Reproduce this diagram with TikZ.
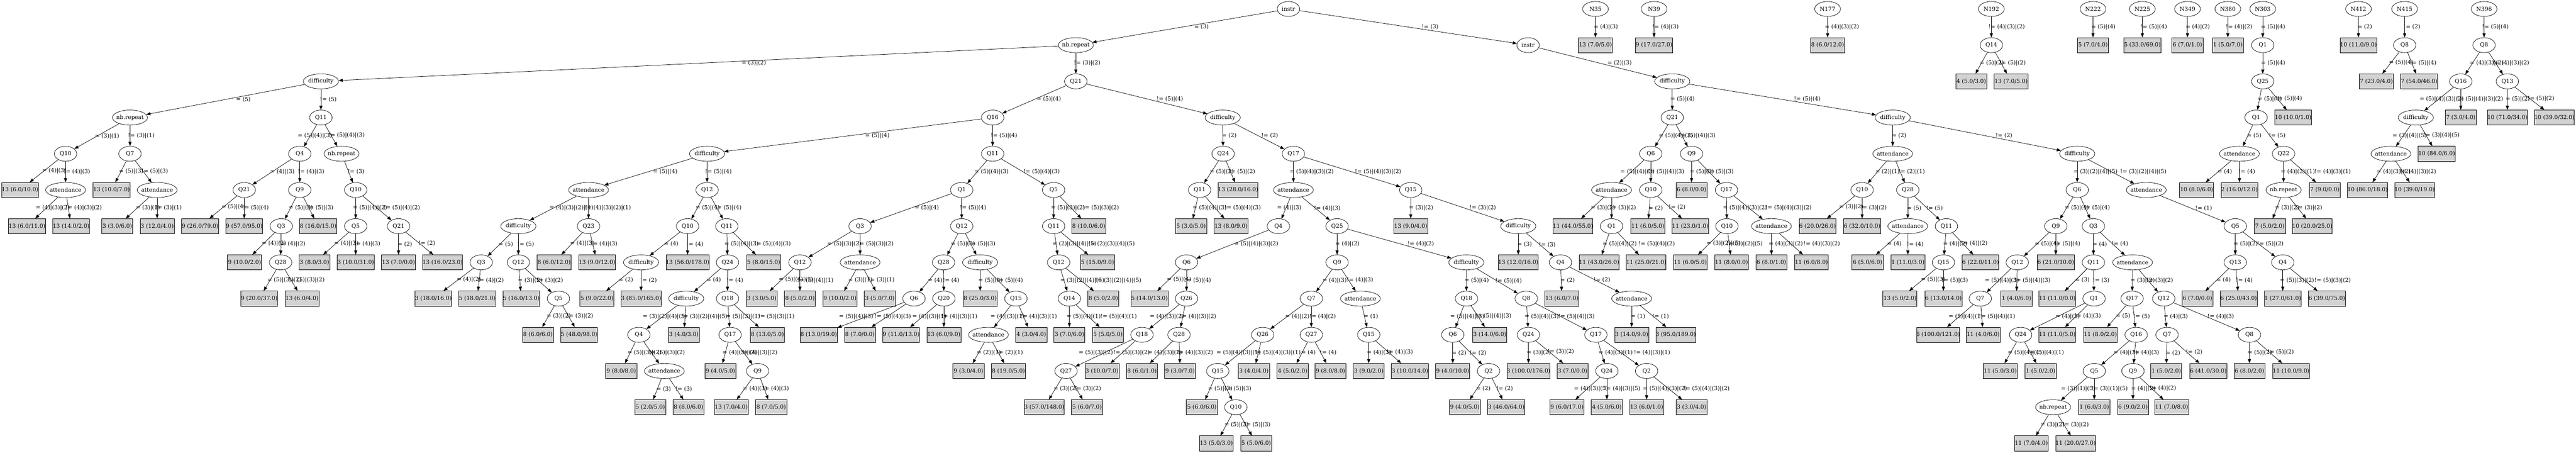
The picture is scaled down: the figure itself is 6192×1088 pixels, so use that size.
\documentclass[tikz,border=0pt]{standalone}
\usepackage{fontspec}
\usetikzlibrary{shapes.geometric,arrows.meta}
\newfontfamily\tmsfam{Liberation Serif}
\newfontfamily\djvfam{DejaVu Serif}
\newsavebox\tmpbox
\newcommand\tx[1]{\sbox\tmpbox{\tmsfam\fontsize{14pt}{16pt}\selectfont #1}\makebox[\wd\tmpbox]{\djvfam\fontsize{13.5pt}{16pt}\selectfont #1}}
\definecolor{lgray}{HTML}{D3D3D3}
\tikzset{
  ell/.style={ellipse, draw=black, line width=0.9pt, inner xsep=4pt, inner ysep=1pt, minimum width=54pt, minimum height=36pt},
  nn/.style={ell, minimum width=62pt},
  lf/.style={rectangle, draw=black, fill=lgray, line width=1pt, inner xsep=8pt, inner ysep=0pt, minimum height=36pt},
  ed/.style={draw=black, line width=0.9pt, -{Triangle[length=10pt,width=7.5pt]}},
  el/.style={anchor=west, inner sep=0pt, xshift=1pt},
  elc/.style={anchor=center, inner sep=0pt}
}
\newcommand\mkI[4]{\node[ell] (#1) at (#3,#4) {\tx{#2}};}
\newcommand\mkN[4]{\node[nn] (#1) at (#3,#4) {\tx{#2}};}
\newcommand\mkL[4]{\node[lf] (#1) at (#3,#4) {\tx{#2}};}
\newcommand\mkE[3]{\draw[ed] (#1) -- node[el]{\tx{#3}} (#2);}
\newcommand\mkEo[4]{\draw[ed] (#1) -- (#2); \node[elc] at (#4) {\tx{#3}};}
\begin{document}
\begin{tikzpicture}
\fill[white] (0pt,0pt) rectangle (6192pt,-1088pt);
\useasboundingbox (0pt,0pt) rectangle (6192pt,-1088pt);
\begin{scope}[x=1pt,y=-87pt,yshift=-21.5pt]
% ---------- main tree nodes ----------
\mkI{n0}{instr}{3097}{0}
\mkI{n1}{nb.repeat}{2586}{1}
\mkI{n2}{instr}{3673}{1}
\mkI{n3}{difficulty}{771.4}{2}
\mkI{n4}{Q21}{2586}{2}
\mkI{n5}{nb.repeat}{312.5}{3}
\mkI{n6}{Q11}{771.4}{3}
\mkI{n7}{Q10}{157.6}{4}
\mkI{n8}{Q7}{312.5}{4}
\mkL{n9}{13 (6.0/10.0)}{48}{5}
\mkI{n10}{attendance}{157.6}{5}
\mkL{n11}{13 (10.0/7.0)}{268}{5}
\mkI{n12}{attendance}{377.7}{5}
\mkL{n13}{13 (6.0/11.0)}{65}{6}
\mkL{n14}{13 (14.0/2.0)}{171}{6}
\mkL{n15}{3 (3.0/6.0)}{282}{6}
\mkL{n16}{3 (12.0/4.0)}{377.7}{6}
\mkI{n17}{Q4}{720.5}{4}
\mkI{n18}{nb.repeat}{821}{4}
\mkI{n19}{Q21}{587}{5}
\mkI{n20}{Q9}{720.5}{5}
\mkL{n21}{9 (26.0/79.0)}{481}{6}
\mkL{n22}{9 (57.0/95.0)}{587}{6}
\mkI{n23}{Q3}{676}{6}
\mkL{n24}{8 (16.0/15.0)}{764.7}{6}
\mkL{n25}{9 (10.0/2.0)}{588}{7}
\mkI{n26}{Q28}{674.5}{7}
\mkL{n27}{9 (20.0/37.0)}{623}{8}
\mkL{n28}{13 (6.0/4.0)}{726}{8}
\mkI{n29}{Q10}{855}{5}
\mkI{n30}{Q5}{855}{6}
\mkI{n31}{Q21}{958}{6}
\mkL{n32}{3 (8.0/3.0)}{755.8}{7}
\mkL{n33}{3 (10.0/31.0)}{855}{7}
\mkL{n34}{13 (7.0/0.0)}{958}{7}
\mkL{n35}{13 (16.0/23.0)}{1063.8}{7}
\mkI{n36}{Q16}{2386}{3}
\mkI{n37}{difficulty}{2939}{3}
\mkI{n38}{difficulty}{1699.6}{4}
\mkI{n39}{Q11}{2386}{4}
\mkI{n40}{attendance}{1414.7}{5}
\mkI{n41}{Q12}{1699.6}{5}
\mkI{n42}{difficulty}{1246}{6}
\mkI{n43}{Q23}{1414.7}{6}
\mkI{n44}{Q3}{1156.7}{7}
\mkI{n45}{Q12}{1246}{7}
\mkL{n46}{3 (18.0/16.0)}{1041.5}{8}
\mkL{n47}{5 (18.0/21.0)}{1147}{8}
\mkL{n48}{5 (16.0/13.0)}{1253}{8}
\mkI{n49}{Q5}{1342.4}{8}
\mkL{n50}{8 (6.0/6.0)}{1293}{9}
\mkL{n51}{5 (48.0/98.0)}{1392}{9}
\mkL{n52}{8 (6.0/12.0)}{1332}{7}
\mkL{n53}{13 (9.0/12.0)}{1435}{7}
\mkI{n54}{Q10}{1652.7}{6}
\mkI{n55}{Q11}{1747}{6}
\mkI{n56}{difficulty}{1541}{7}
\mkL{n57}{13 (56.0/178.0)}{1652.7}{7}
\mkL{n58}{5 (9.0/22.0)}{1434.8}{8}
\mkL{n59}{3 (85.0/165.0)}{1541}{8}
\mkI{n60}{Q24}{1748.7}{7}
\mkL{n61}{5 (8.0/15.0)}{1835.7}{7}
\mkI{n62}{difficulty}{1649.5}{8}
\mkI{n63}{Q18}{1748.7}{8}
\mkI{n64}{Q4}{1535.7}{9}
\mkL{n65}{3 (4.0/3.0)}{1643.8}{9}
\mkL{n66}{9 (8.0/8.0)}{1493.3}{10}
\mkI{n67}{attendance}{1596.9}{10}
\mkL{n68}{5 (2.0/5.0)}{1563}{11}
\mkL{n69}{8 (8.0/6.0)}{1655}{11}
\mkI{n70}{Q17}{1755}{9}
\mkL{n71}{8 (13.0/5.0)}{1844.6}{9}
\mkL{n72}{9 (4.0/5.0)}{1731.7}{10}
\mkI{n73}{Q9}{1821}{10}
\mkL{n74}{13 (7.0/4.0)}{1757.6}{11}
\mkL{n75}{8 (7.0/5.0)}{1853.6}{11}
\mkI{n76}{Q1}{2311.6}{5}
\mkI{n77}{Q5}{2532.6}{5}
\mkI{n78}{Q3}{2067.4}{6}
\mkI{n79}{Q12}{2311.6}{6}
\mkI{n80}{Q12}{1922.8}{7}
\mkI{n81}{attendance}{2067.4}{7}
\mkL{n82}{3 (3.0/5.0)}{1831}{8}
\mkL{n83}{8 (5.0/2.0)}{1922.8}{8}
\mkL{n84}{9 (10.0/2.0)}{2019}{8}
\mkL{n85}{3 (5.0/7.0)}{2115}{8}
\mkI{n86}{Q28}{2268}{7}
\mkI{n87}{difficulty}{2356}{7}
\mkI{n88}{Q6}{2197}{8}
\mkI{n89}{Q20}{2268.8}{8}
\mkL{n90}{8 (13.0/19.0)}{1968}{9}
\mkL{n91}{8 (7.0/0.0)}{2067}{9}
\mkL{n92}{9 (11.0/13.0)}{2166}{9}
\mkL{n93}{13 (6.0/9.0)}{2268.8}{9}
\mkL{n94}{8 (25.0/3.0)}{2356}{8}
\mkI{n95}{Q15}{2442}{8}
\mkI{n96}{attendance}{2376}{9}
\mkL{n97}{4 (3.0/4.0)}{2479}{9}
\mkL{n98}{9 (3.0/4.0)}{2328}{10}
\mkL{n99}{8 (19.0/5.0)}{2424}{10}
\mkI{n100}{Q11}{2532.6}{6}
\mkL{n101}{8 (10.0/6.0)}{2617}{6}
\mkI{n102}{Q12}{2544.6}{7}
\mkL{n103}{5 (15.0/9.0)}{2638}{7}
\mkI{n104}{Q14}{2570.5}{8}
\mkL{n105}{8 (5.0/2.0)}{2652}{8}
\mkL{n106}{3 (7.0/6.0)}{2570.5}{9}
\mkL{n107}{5 (5.0/5.0)}{2663}{9}
\mkI{n108}{Q24}{2940}{4}
\mkI{n109}{Q17}{3109}{4}
\mkI{n110}{Q11}{2883.5}{5}
\mkL{n111}{13 (28.0/16.0)}{2976}{5}
\mkL{n112}{5 (3.0/5.0)}{2863}{6}
\mkL{n113}{13 (8.0/9.0)}{2959}{6}
\mkI{n114}{attendance}{3109}{5}
\mkI{n115}{Q15}{3391}{5}
\mkI{n116}{Q4}{3073}{6}
\mkI{n117}{Q25}{3214}{6}
\mkI{n118}{Q6}{2852}{7}
\mkL{n119}{5 (14.0/13.0)}{2763}{8}
\mkI{n120}{Q26}{2852}{8}
\mkI{n121}{Q18}{2745}{9}
\mkI{n122}{Q28}{2834}{9}
\mkI{n123}{Q27}{2562.5}{10}
\mkL{n124}{3 (10.0/7.0)}{2649}{10}
\mkL{n125}{3 (57.0/148.0)}{2510}{11}
\mkL{n126}{5 (6.0/7.0)}{2613}{11}
\mkL{n127}{8 (6.0/1.0)}{2745}{10}
\mkL{n128}{9 (3.0/7.0)}{2836.6}{10}
\mkI{n129}{Q9}{3214}{7}
\mkI{n130}{difficulty}{3524.6}{7}
\mkI{n131}{Q7}{3152}{8}
\mkI{n132}{attendance}{3270}{8}
\mkI{n133}{Q15}{3290}{9}
\mkL{n134}{3 (9.0/2.0)}{3290}{10}
\mkL{n135}{3 (10.0/14.0)}{3389}{10}
\mkI{n136}{Q26}{3035}{9}
\mkI{n137}{Q27}{3152}{9}
\mkI{n138}{Q15}{2927}{10}
\mkL{n139}{3 (4.0/4.0)}{3014}{10}
\mkL{n140}{4 (5.0/2.0)}{3107}{10}
\mkL{n141}{9 (8.0/8.0)}{3198}{10}
\mkL{n142}{5 (6.0/6.0)}{2889}{11}
\mkI{n143}{Q10}{2970.5}{11}
\mkL{n144}{13 (5.0/3.0)}{2923.7}{12}
\mkL{n145}{5 (5.0/6.0)}{3019.6}{12}
\mkL{n146}{13 (9.0/4.0)}{3391}{6}
\mkI{n147}{difficulty}{3649.5}{6}
\mkL{n148}{13 (12.0/16.0)}{3649.5}{7}
\mkI{n149}{Q4}{3751}{7}
\mkL{n150}{13 (6.0/7.0)}{3754.5}{8}
\mkI{n151}{attendance}{3922}{8}
\mkL{n152}{3 (14.0/9.0)}{3922}{9}
\mkL{n153}{3 (95.0/189.0)}{4028}{9}
\mkI{n154}{Q18}{3525}{8}
\mkI{n155}{Q8}{3668.75}{8}
\mkI{n156}{Q6}{3492}{9}
\mkL{n157}{3 (14.0/6.0)}{3581}{9}
\mkL{n158}{9 (4.0/10.0)}{3492}{10}
\mkI{n159}{Q2}{3578}{10}
\mkL{n160}{9 (4.0/5.0)}{3521}{11}
\mkL{n161}{3 (46.0/64.0)}{3620.5}{11}
\mkI{n162}{Q24}{3674}{9}
\mkI{n163}{Q17}{3836}{9}
\mkL{n164}{3 (100.0/176.0)}{3674}{10}
\mkL{n165}{3 (7.0/0.0)}{3780}{10}
\mkI{n166}{Q24}{3862.5}{10}
\mkI{n167}{Q2}{3958}{10}
\mkL{n168}{9 (6.0/17.0)}{3766.5}{11}
\mkL{n169}{4 (5.0/6.0)}{3862.5}{11}
\mkL{n170}{13 (6.0/1.0)}{3958}{11}
\mkL{n171}{3 (3.0/4.0)}{4066}{11}
\mkI{n172}{difficulty}{4019.6}{2}
\mkI{n173}{Q21}{4019.6}{3}
\mkI{n174}{difficulty}{4549.5}{3}
\mkI{n175}{Q6}{3968}{4}
\mkI{n176}{Q9}{4066}{4}
\mkI{n177}{attendance}{3873.7}{5}
\mkI{n178}{Q10}{3968}{5}
\mkL{n179}{11 (44.0/55.0)}{3781}{6}
\mkI{n180}{Q1}{3873.7}{6}
\mkL{n181}{11 (43.0/26.0)}{3843.75}{7}
\mkL{n182}{11 (25.0/21.0)}{3957}{7}
\mkL{n183}{11 (6.0/5.0)}{3961}{6}
\mkL{n184}{11 (23.0/1.0)}{4063}{6}
\mkL{n185}{6 (8.0/0.0)}{4066}{5}
\mkI{n186}{Q17}{4150}{5}
\mkI{n187}{Q10}{4151}{6}
\mkI{n188}{attendance}{4258}{6}
\mkL{n189}{11 (6.0/5.0)}{4063}{7}
\mkL{n190}{11 (8.0/0.0)}{4162}{7}
\mkL{n191}{6 (8.0/1.0)}{4258}{7}
\mkL{n192}{11 (6.0/8.0)}{4354}{7}
\mkI{n193}{attendance}{4549.5}{4}
\mkI{n194}{difficulty}{4993}{4}
\mkI{n195}{Q10}{4476}{5}
\mkI{n196}{Q28}{4585.7}{5}
\mkL{n197}{6 (20.0/26.0)}{4368.75}{6}
\mkL{n198}{6 (32.0/10.0)}{4476}{6}
\mkI{n199}{attendance}{4585.7}{6}
\mkI{n200}{Q11}{4678.6}{6}
\mkL{n201}{6 (5.0/6.0)}{4489}{7}
\mkL{n202}{1 (11.0/3.0)}{4586}{7}
\mkI{n203}{Q15}{4671.4}{7}
\mkL{n204}{6 (22.0/11.0)}{4760.7}{7}
\mkL{n205}{13 (5.0/2.0)}{4567}{8}
\mkL{n206}{6 (13.0/14.0)}{4671.4}{8}
\mkI{n207}{Q6}{4993}{5}
\mkI{n208}{attendance}{5159}{5}
\mkI{n209}{Q9}{4941.5}{6}
\mkI{n210}{Q3}{5032}{6}
\mkI{n211}{Q12}{4849}{7}
\mkL{n212}{6 (21.0/10.0)}{4941.5}{7}
\mkI{n213}{Q7}{4760}{8}
\mkL{n214}{1 (4.0/6.0)}{4847}{8}
\mkL{n215}{6 (100.0/121.0)}{4658.5}{9}
\mkL{n216}{11 (4.0/6.0)}{4767}{9}
\mkI{n217}{Q11}{5032}{7}
\mkI{n218}{attendance}{5126}{7}
\mkL{n219}{11 (11.0/0.0)}{4945}{8}
\mkI{n220}{Q1}{5033.5}{8}
\mkI{n221}{Q24}{4857}{9}
\mkL{n222}{11 (11.0/5.0)}{4945}{9}
\mkL{n223}{11 (5.0/3.0)}{4808}{10}
\mkL{n224}{1 (5.0/2.0)}{4905}{10}
\mkI{n225}{Q17}{5125}{8}
\mkI{n226}{Q12}{5201}{8}
\mkL{n227}{11 (8.0/2.0)}{5048.6}{9}
\mkI{n228}{Q16}{5134.8}{9}
\mkI{n229}{Q5}{5034}{10}
\mkI{n230}{Q9}{5127}{10}
\mkI{n231}{nb.repeat}{4935}{11}
\mkL{n232}{1 (6.0/3.0)}{5034}{11}
\mkL{n233}{11 (7.0/4.0)}{4882.6}{12}
\mkL{n234}{11 (20.0/27.0)}{4989}{12}
\mkL{n235}{6 (9.0/2.0)}{5127}{11}
\mkL{n236}{11 (7.0/8.0)}{5220}{11}
\mkI{n237}{Q7}{5209}{9}
\mkI{n238}{Q8}{5407}{9}
\mkL{n239}{1 (5.0/2.0)}{5207}{10}
\mkL{n240}{6 (41.0/30.0)}{5308}{10}
\mkL{n241}{6 (8.0/2.0)}{5407}{10}
\mkL{n242}{11 (10.0/9.0)}{5507}{10}
\mkI{n243}{Q5}{5373}{6}
\mkI{n244}{Q13}{5373}{7}
\mkI{n245}{Q4}{5487}{7}
\mkL{n246}{6 (7.0/0.0)}{5282}{8}
\mkL{n247}{6 (25.0/43.0)}{5381}{8}
\mkL{n248}{1 (27.0/61.0)}{5487}{8}
\mkL{n249}{6 (39.0/75.0)}{5593}{8}
% ---------- main tree edges ----------
\mkEo{n0}{n1}{= (3)}{2888,0.5}
\mkEo{n0}{n2}{!= (3)}{3437.5,0.5}
\mkEo{n1}{n3}{= (3)|(2)}{1812,1.5}
\mkE{n1}{n4}{!= (3)|(2)}
\mkEo{n3}{n5}{= (5)}{585,2.5}
\mkE{n3}{n6}{!= (5)}
\mkE{n5}{n7}{= (3)|(1)}
\mkE{n5}{n8}{!= (3)|(1)}
\mkE{n7}{n9}{= (4)|(3)}
\mkE{n7}{n10}{!= (4)|(3)}
\mkE{n8}{n11}{= (5)|(3)}
\mkE{n8}{n12}{!= (5)|(3)}
\mkEo{n10}{n13}{= (4)|(3)|(2)}{127,5.5}
\mkE{n10}{n14}{!= (4)|(3)|(2)}
\mkE{n12}{n15}{= (3)|(1)}
\mkE{n12}{n16}{!= (3)|(1)}
\mkEo{n6}{n17}{= (5)|(4)|(3)}{757,3.5}
\mkE{n6}{n18}{!= (5)|(4)|(3)}
\mkE{n17}{n19}{= (4)|(3)}
\mkE{n17}{n20}{!= (4)|(3)}
\mkE{n19}{n21}{= (5)|(4)}
\mkE{n19}{n22}{!= (5)|(4)}
\mkE{n20}{n23}{= (5)|(3)}
\mkE{n20}{n24}{!= (5)|(3)}
\mkE{n23}{n25}{= (4)|(2)}
\mkE{n23}{n26}{!= (4)|(2)}
\mkE{n26}{n27}{= (5)|(3)|(2)}
\mkE{n26}{n28}{!= (5)|(3)|(2)}
\mkE{n18}{n29}{!= (3)}
\mkE{n29}{n30}{= (5)|(4)|(2)}
\mkEo{n29}{n31}{!= (5)|(4)|(2)}{966,5.5}
\mkE{n30}{n32}{= (4)|(3)}
\mkE{n30}{n33}{!= (4)|(3)}
\mkE{n31}{n34}{= (2)}
\mkE{n31}{n35}{!= (2)}
\mkEo{n4}{n36}{= (5)|(4)}{2521,2.5}
\mkEo{n4}{n37}{!= (5)|(4)}{2812,2.5}
\mkEo{n36}{n38}{= (5)|(4)}{2109,3.5}
\mkE{n36}{n39}{!= (5)|(4)}
\mkEo{n38}{n40}{= (5)|(4)}{1599,4.5}
\mkE{n38}{n41}{!= (5)|(4)}
\mkE{n40}{n42}{= (4)|(3)|(2)|(1)}
\mkE{n40}{n43}{!= (4)|(3)|(2)|(1)}
\mkE{n42}{n44}{= (5)}
\mkE{n42}{n45}{!= (5)}
\mkE{n44}{n46}{= (4)|(2)}
\mkE{n44}{n47}{!= (4)|(2)}
\mkE{n45}{n48}{= (3)|(2)}
\mkE{n45}{n49}{!= (3)|(2)}
\mkE{n49}{n50}{= (3)|(2)}
\mkE{n49}{n51}{!= (3)|(2)}
\mkE{n43}{n52}{= (4)|(3)}
\mkE{n43}{n53}{!= (4)|(3)}
\mkE{n41}{n54}{= (5)|(4)}
\mkE{n41}{n55}{!= (5)|(4)}
\mkE{n54}{n56}{= (4)}
\mkE{n54}{n57}{!= (4)}
\mkE{n56}{n58}{= (2)}
\mkE{n56}{n59}{!= (2)}
\mkE{n55}{n60}{= (5)|(4)|(3)}
\mkEo{n55}{n61}{!= (5)|(4)|(3)}{1857,6.5}
\mkE{n60}{n62}{= (4)}
\mkE{n60}{n63}{!= (4)}
\mkEo{n62}{n64}{= (3)|(2)|(4)|(5)}{1598,8.5}
\mkE{n62}{n65}{!= (3)|(2)|(4)|(5)}
\mkE{n64}{n66}{= (5)|(3)|(2)}
\mkE{n64}{n67}{!= (5)|(3)|(2)}
\mkE{n67}{n68}{= (3)}
\mkE{n67}{n69}{!= (3)}
\mkE{n63}{n70}{= (5)|(3)|(1)}
\mkEo{n63}{n71}{!= (5)|(3)|(1)}{1866,8.5}
\mkE{n70}{n72}{= (4)|(3)|(2)}
\mkE{n70}{n73}{!= (4)|(3)|(2)}
\mkE{n73}{n74}{= (4)|(3)}
\mkE{n73}{n75}{!= (4)|(3)}
\mkE{n39}{n76}{= (5)|(4)|(3)}
\mkEo{n39}{n77}{!= (5)|(4)|(3)}{2503.6,4.5}
\mkEo{n76}{n78}{= (5)|(4)}{2227.7,5.5}
\mkE{n76}{n79}{!= (5)|(4)}
\mkE{n78}{n80}{= (5)|(3)|(2)}
\mkE{n78}{n81}{!= (5)|(3)|(2)}
\mkE{n80}{n82}{= (5)|(4)|(1)}
\mkE{n80}{n83}{!= (5)|(4)|(1)}
\mkE{n81}{n84}{= (3)|(1)}
\mkE{n81}{n85}{!= (3)|(1)}
\mkE{n79}{n86}{= (5)|(3)}
\mkE{n79}{n87}{!= (5)|(3)}
\mkE{n86}{n88}{= (4)}
\mkE{n86}{n89}{!= (4)}
\mkEo{n88}{n90}{= (5)|(4)|(3)}{2058,8.5}
\mkEo{n88}{n91}{!= (5)|(4)|(3)}{2146,8.5}
\mkEo{n89}{n92}{= (4)|(3)|(1)}{2234,8.5}
\mkE{n89}{n93}{!= (4)|(3)|(1)}
\mkE{n87}{n94}{= (5)|(4)}
\mkE{n87}{n95}{!= (5)|(4)}
\mkEo{n95}{n96}{= (4)|(3)|(1)}{2422,8.5}
\mkE{n95}{n97}{!= (4)|(3)|(1)}
\mkE{n96}{n98}{= (2)|(1)}
\mkE{n96}{n99}{!= (2)|(1)}
\mkE{n77}{n100}{= (5)|(3)|(2)}
\mkEo{n77}{n101}{!= (5)|(3)|(2)}{2646,5.5}
\mkE{n100}{n102}{= (2)|(3)|(4)|(5)}
\mkEo{n100}{n103}{!= (2)|(3)|(4)|(5)}{2672,6.5}
\mkE{n102}{n104}{= (3)|(2)|(4)|(5)}
\mkEo{n102}{n105}{!= (3)|(2)|(4)|(5)}{2688,7.5}
\mkE{n104}{n106}{= (5)|(4)|(1)}
\mkEo{n104}{n107}{!= (5)|(4)|(1)}{2689,8.5}
\mkE{n37}{n108}{= (2)}
\mkEo{n37}{n109}{!= (2)}{3052,3.5}
\mkE{n108}{n110}{= (5)|(2)}
\mkE{n108}{n111}{!= (5)|(2)}
\mkE{n110}{n112}{= (5)|(4)|(3)}
\mkEo{n110}{n113}{!= (5)|(4)|(3)}{2987,5.5}
\mkE{n109}{n114}{= (5)|(4)|(3)|(2)}
\mkEo{n109}{n115}{!= (5)|(4)|(3)|(2)}{3312.5,4.5}
\mkEo{n114}{n116}{= (4)|(3)}{3099,5.5}
\mkE{n114}{n117}{!= (4)|(3)}
\mkEo{n116}{n118}{= (5)|(4)|(3)|(2)}{3019.6,6.5}
\mkE{n118}{n119}{= (5)|(4)}
\mkE{n118}{n120}{!= (5)|(4)}
\mkEo{n120}{n121}{= (4)|(3)|(2)}{2805,8.5}
\mkE{n120}{n122}{!= (4)|(3)|(2)}
\mkEo{n121}{n123}{= (5)|(3)|(2)}{2634,9.5}
\mkEo{n121}{n124}{!= (5)|(3)|(2)}{2720,9.5}
\mkE{n123}{n125}{= (3)|(2)}
\mkE{n123}{n126}{!= (3)|(2)}
\mkEo{n122}{n127}{= (4)|(3)|(2)}{2800,9.5}
\mkE{n122}{n128}{!= (4)|(3)|(2)}
\mkE{n117}{n129}{= (4)|(2)}
\mkEo{n117}{n130}{!= (4)|(2)}{3415,6.5}
\mkE{n129}{n131}{= (4)|(3)}
\mkE{n129}{n132}{!= (4)|(3)}
\mkE{n132}{n133}{= (1)}
\mkE{n133}{n134}{= (4)|(3)}
\mkE{n133}{n135}{!= (4)|(3)}
\mkE{n131}{n136}{= (4)|(2)}
\mkE{n131}{n137}{!= (4)|(2)}
\mkEo{n136}{n138}{= (5)|(4)|(3)|(1)}{2977,9.5}
\mkE{n136}{n139}{!= (5)|(4)|(3)|(1)}
\mkE{n137}{n140}{= (4)}
\mkE{n137}{n141}{!= (4)}
\mkE{n138}{n142}{= (5)|(3)}
\mkE{n138}{n143}{!= (5)|(3)}
\mkE{n143}{n144}{= (5)|(3)}
\mkE{n143}{n145}{!= (5)|(3)}
\mkE{n115}{n146}{= (3)|(2)}
\mkEo{n115}{n147}{!= (3)|(2)}{3564,5.5}
\mkE{n147}{n148}{= (3)}
\mkE{n147}{n149}{!= (3)}
\mkE{n149}{n150}{= (2)}
\mkE{n149}{n151}{!= (2)}
\mkE{n151}{n152}{= (1)}
\mkE{n151}{n153}{!= (1)}
\mkE{n130}{n154}{= (5)|(4)}
\mkE{n130}{n155}{!= (5)|(4)}
\mkEo{n154}{n156}{= (5)|(4)|(3)}{3527,8.5}
\mkE{n154}{n157}{!= (5)|(4)|(3)}
\mkE{n156}{n158}{= (2)}
\mkE{n156}{n159}{!= (2)}
\mkE{n159}{n160}{= (2)}
\mkE{n159}{n161}{!= (2)}
\mkE{n155}{n162}{= (5)|(4)|(3)}
\mkE{n155}{n163}{!= (5)|(4)|(3)}
\mkE{n162}{n164}{= (3)|(2)}
\mkE{n162}{n165}{!= (3)|(2)}
\mkE{n163}{n166}{= (4)|(3)|(1)}
\mkEo{n163}{n167}{!= (4)|(3)|(1)}{3971,9.5}
\mkEo{n166}{n168}{= (4)|(3)|(5)}{3824.5,10.5}
\mkE{n166}{n169}{!= (4)|(3)|(5)}
\mkE{n167}{n170}{= (5)|(4)|(3)|(2)}
\mkEo{n167}{n171}{!= (5)|(4)|(3)|(2)}{4102,10.5}
\mkEo{n2}{n172}{= (2)|(3)}{3893,1.5}
\mkE{n172}{n173}{= (5)|(4)}
\mkEo{n172}{n174}{!= (5)|(4)}{4344,2.5}
\mkE{n173}{n175}{= (5)|(4)|(3)}
\mkE{n173}{n176}{!= (5)|(4)|(3)}
\mkEo{n175}{n177}{= (5)|(4)|(3)}{3936,4.5}
\mkE{n175}{n178}{!= (5)|(4)|(3)}
\mkE{n177}{n179}{= (3)|(2)}
\mkE{n177}{n180}{!= (3)|(2)}
\mkE{n180}{n181}{= (5)|(4)|(2)}
\mkEo{n180}{n182}{!= (5)|(4)|(2)}{3982,6.5}
\mkE{n178}{n183}{= (2)}
\mkE{n178}{n184}{!= (2)}
\mkE{n176}{n185}{= (5)|(3)}
\mkE{n176}{n186}{!= (5)|(3)}
\mkE{n186}{n187}{= (5)|(4)|(3)|(2)}
\mkEo{n186}{n188}{!= (5)|(4)|(3)|(2)}{4299,5.5}
\mkE{n187}{n189}{= (3)|(2)|(5)}
\mkE{n187}{n190}{!= (3)|(2)|(5)}
\mkE{n188}{n191}{= (4)|(3)|(2)}
\mkEo{n188}{n192}{!= (4)|(3)|(2)}{4379,6.5}
\mkE{n174}{n193}{= (2)}
\mkEo{n174}{n194}{!= (2)}{4817,3.5}
\mkE{n193}{n195}{= (2)|(1)}
\mkE{n193}{n196}{!= (2)|(1)}
\mkE{n195}{n197}{= (3)|(2)}
\mkE{n195}{n198}{!= (3)|(2)}
\mkE{n196}{n199}{= (5)}
\mkE{n196}{n200}{!= (5)}
\mkE{n199}{n201}{= (4)}
\mkE{n199}{n202}{!= (4)}
\mkE{n200}{n203}{= (4)|(2)}
\mkE{n200}{n204}{!= (4)|(2)}
\mkE{n203}{n205}{= (5)|(3)}
\mkE{n203}{n206}{!= (5)|(3)}
\mkE{n194}{n207}{= (3)|(2)|(4)|(5)}
\mkEo{n194}{n208}{!= (3)|(2)|(4)|(5)}{5152,4.5}
\mkE{n207}{n209}{= (5)|(4)}
\mkE{n207}{n210}{!= (5)|(4)}
\mkE{n209}{n211}{= (5)|(4)}
\mkE{n209}{n212}{!= (5)|(4)}
\mkEo{n211}{n213}{= (5)|(4)|(3)}{4812,7.5}
\mkE{n211}{n214}{!= (5)|(4)|(3)}
\mkEo{n213}{n215}{= (5)|(4)|(1)}{4725,8.5}
\mkE{n213}{n216}{!= (5)|(4)|(1)}
\mkE{n210}{n217}{= (4)}
\mkE{n210}{n218}{!= (4)}
\mkE{n217}{n219}{= (3)}
\mkE{n217}{n220}{!= (3)}
\mkE{n220}{n221}{= (4)|(3)}
\mkE{n220}{n222}{!= (4)|(3)}
\mkE{n221}{n223}{= (5)|(4)|(1)}
\mkE{n221}{n224}{!= (5)|(4)|(1)}
\mkE{n218}{n225}{= (3)|(2)}
\mkE{n218}{n226}{!= (3)|(2)}
\mkE{n225}{n227}{= (5)}
\mkE{n225}{n228}{!= (5)}
\mkE{n228}{n229}{= (4)|(3)}
\mkE{n228}{n230}{!= (4)|(3)}
\mkEo{n229}{n231}{= (3)|(1)|(5)}{4995,10.5}
\mkE{n229}{n232}{!= (3)|(1)|(5)}
\mkE{n231}{n233}{= (3)|(2)}
\mkE{n231}{n234}{!= (3)|(2)}
\mkE{n230}{n235}{= (4)|(2)}
\mkE{n230}{n236}{!= (4)|(2)}
\mkE{n226}{n237}{= (4)|(3)}
\mkEo{n226}{n238}{!= (4)|(3)}{5338,8.5}
\mkE{n237}{n239}{= (2)}
\mkE{n237}{n240}{!= (2)}
\mkE{n238}{n241}{= (5)|(2)}
\mkE{n238}{n242}{!= (5)|(2)}
\mkEo{n208}{n243}{!= (1)}{5297,5.5}
\mkE{n243}{n244}{= (5)|(2)}
\mkE{n243}{n245}{!= (5)|(2)}
\mkE{n244}{n246}{= (4)}
\mkE{n244}{n247}{!= (4)}
\mkE{n245}{n248}{= (5)|(3)|(2)}
\mkEo{n245}{n249}{!= (5)|(3)|(2)}{5607,7.5}
% ---------- small trees ----------
\mkN{a1}{N35}{3835}{0} \mkL{a2}{13 (7.0/5.0)}{3835}{1}
\mkE{a1}{a2}{= (4)|(3)}
\mkN{b1}{N39}{3975.9}{0} \mkL{b2}{9 (17.0/27.0)}{3975.9}{1}
\mkE{b1}{b2}{!= (4)|(3)}
\mkN{c1}{N177}{4393}{0} \mkL{c2}{8 (6.0/12.0)}{4393}{1}
\mkE{c1}{c2}{= (4)|(3)|(2)}
\mkN{d1}{N192}{4786.6}{0} \mkI{d2}{Q14}{4786.6}{1}
\mkL{d3}{4 (5.0/3.0)}{4738.4}{2} \mkL{d4}{13 (7.0/5.0)}{4834}{2}
\mkE{d1}{d2}{!= (4)|(3)|(2)}
\mkE{d2}{d3}{= (5)|(2)}
\mkE{d2}{d4}{!= (5)|(2)}
\mkN{e1}{N222}{5031}{0} \mkL{e2}{5 (7.0/4.0)}{5031}{1}
\mkE{e1}{e2}{= (5)|(4)}
\mkN{f1}{N225}{5149.6}{0} \mkL{f2}{5 (33.0/69.0)}{5149.6}{1}
\mkE{f1}{f2}{!= (5)|(4)}
\mkN{g1}{N349}{5258}{0} \mkL{g2}{6 (7.0/1.0)}{5258}{1}
\mkE{g1}{g2}{= (4)|(2)}
\mkN{h1}{N380}{5355}{0} \mkL{h2}{1 (5.0/7.0)}{5355}{1}
\mkE{h1}{h2}{!= (4)|(2)}
\mkN{i1}{N303}{5439}{0}
\mkI{i2}{Q1}{5439}{1}
\mkI{i3}{Q25}{5439}{2}
\mkI{i4}{Q1}{5423}{3}
\mkL{i5}{10 (10.0/1.0)}{5512}{3}
\mkI{i6}{attendance}{5383}{4}
\mkI{i7}{Q22}{5489}{4}
\mkL{i8}{10 (8.0/6.0)}{5280}{5}
\mkL{i9}{2 (16.0/12.0)}{5383}{5}
\mkI{i10}{nb.repeat}{5489}{5}
\mkL{i11}{7 (9.0/0.0)}{5588}{5}
\mkL{i12}{7 (5.0/2.0)}{5456}{6}
\mkL{i13}{10 (20.0/25.0)}{5558}{6}
\mkE{i1}{i2}{= (5)|(4)}
\mkE{i2}{i3}{= (5)|(4)}
\mkE{i3}{i4}{= (5)|(4)}
\mkE{i3}{i5}{!= (5)|(4)}
\mkE{i4}{i6}{= (5)}
\mkE{i4}{i7}{!= (5)}
\mkE{i6}{i8}{= (4)}
\mkE{i6}{i9}{!= (4)}
\mkE{i7}{i10}{= (4)|(3)|(1)}
\mkEo{i7}{i11}{!= (4)|(3)|(1)}{5607,4.5}
\mkE{i10}{i12}{= (3)|(2)}
\mkE{i10}{i13}{!= (3)|(2)}
\mkN{j1}{N412}{5669}{0} \mkL{j2}{10 (11.0/9.0)}{5669}{1}
\mkE{j1}{j2}{= (2)}
\mkN{k1}{N415}{5780}{0} \mkI{k2}{Q8}{5780}{1}
\mkL{k3}{7 (23.0/4.0)}{5712}{2} \mkL{k4}{7 (54.0/46.0)}{5815}{2}
\mkE{k1}{k2}{!= (2)}
\mkE{k2}{k3}{= (5)|(4)}
\mkE{k2}{k4}{!= (5)|(4)}
\mkN{m1}{N396}{5971}{0}
\mkI{m2}{Q8}{5971}{1}
\mkI{m3}{Q16}{5915}{2}
\mkI{m4}{Q13}{6027}{2}
\mkI{m5}{difficulty}{5807}{3}
\mkL{m6}{7 (3.0/4.0)}{5915}{3}
\mkL{m7}{10 (71.0/34.0)}{6027}{3}
\mkL{m8}{10 (39.0/32.0)}{6140}{3}
\mkI{m9}{attendance}{5747}{4}
\mkL{m10}{10 (84.0/6.0)}{5857}{4}
\mkL{m11}{10 (86.0/18.0)}{5691}{5}
\mkL{m12}{10 (39.0/19.0)}{5804}{5}
\mkE{m1}{m2}{!= (5)|(4)}
\mkE{m2}{m3}{= (4)|(3)|(2)}
\mkE{m2}{m4}{!= (4)|(3)|(2)}
\mkEo{m3}{m5}{= (5)|(4)|(3)|(2)}{5869,2.5}
\mkE{m3}{m6}{!= (5)|(4)|(3)|(2)}
\mkE{m4}{m7}{= (5)|(2)}
\mkE{m4}{m8}{!= (5)|(2)}
\mkEo{m5}{m9}{= (3)|(4)|(5)}{5792,3.5}
\mkE{m5}{m10}{!= (3)|(4)|(5)}
\mkE{m9}{m11}{= (4)|(3)|(2)}
\mkE{m9}{m12}{!= (4)|(3)|(2)}
\end{scope}
\end{tikzpicture}
\end{document}
